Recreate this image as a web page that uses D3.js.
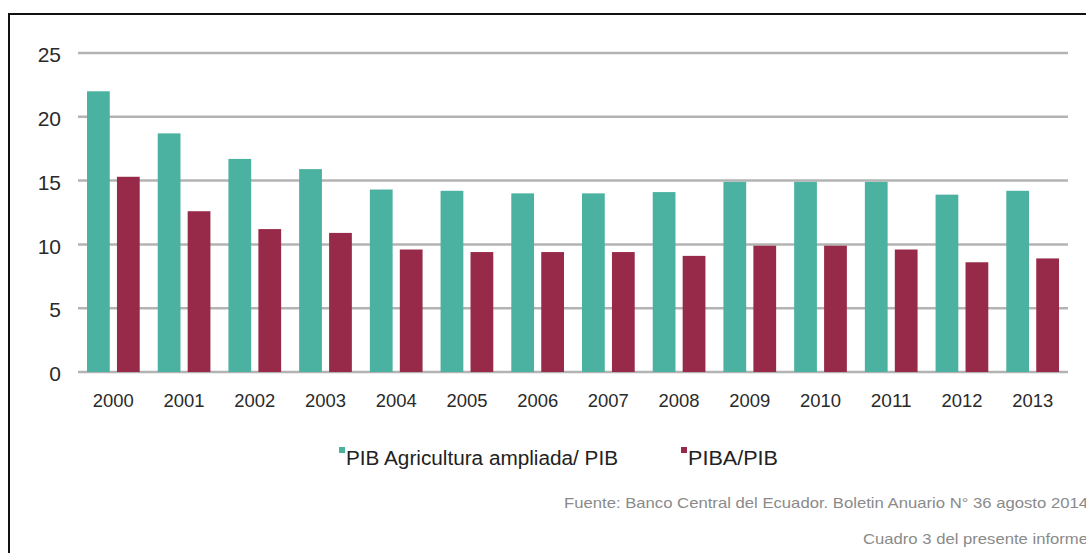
<!DOCTYPE html>
<html>
<head>
<meta charset="utf-8">
<script src="https://cdn.jsdelivr.net/npm/d3@7"></script>
<style>
  html, body { margin: 0; padding: 0; background: #fff; }
  svg { display: block; font-family: "Liberation Sans", Arial, sans-serif; }
</style>
</head>
<body>
<svg id="chart" width="1086" height="553"></svg>
<script>
// Participación del PIB agrícola en el PIB total (%)
const years = ["2000","2001","2002","2003","2004","2005","2006","2007","2008","2009","2010","2011","2012","2013"];
const pibAgriculturaAmpliada = [22.0, 18.7, 16.7, 15.9, 14.3, 14.2, 14.0, 14.0, 14.1, 14.9, 14.9, 14.9, 13.9, 14.2];
const pibaPib = [15.3, 12.6, 11.2, 10.9, 9.6, 9.4, 9.4, 9.4, 9.1, 9.9, 9.9, 9.6, 8.6, 8.9];
const yTicks = [0, 5, 10, 15, 20, 25];
const seriesNames = ["PIB Agricultura ampliada/ PIB", "PIBA/PIB"];
const seriesColors = ["#4bb1a1", "#982a49"];
const sourceLines = [
  "Fuente: Banco Central del Ecuador. Boletin Anuario N° 36 agosto 2014",
  "Cuadro 3 del presente informe"
];

const svg = d3.select("#chart");

// frame lines (top and left)
svg.append("line").attr("x1", 9).attr("x2", 1086).attr("y1", 14).attr("y2", 14)
  .attr("stroke", "#111").attr("stroke-width", 2);
svg.append("line").attr("x1", 9).attr("x2", 9).attr("y1", 13).attr("y2", 553)
  .attr("stroke", "#111").attr("stroke-width", 2);

const plot = { left: 78, right: 1068, top: 53, bottom: 372 };

const x = d3.scaleBand().domain(years).range([plot.left, plot.right]).paddingInner(0).paddingOuter(0);
const inner = d3.scaleBand().domain([0, 1]).range([9, x.bandwidth() - 9]).paddingInner(0.24);
const y = d3.scaleLinear().domain([0, 25]).range([plot.bottom, plot.top]);

// horizontal gridlines
svg.append("g").selectAll("line").data(yTicks).join("line")
  .attr("x1", plot.left).attr("x2", plot.right)
  .attr("y1", d => y(d)).attr("y2", d => y(d))
  .attr("stroke", "#b3b3b3").attr("stroke-width", 2.5);

// y-axis labels
const yAxis = d3.axisLeft(y).tickValues(yTicks).tickSize(0).tickPadding(0);
const gy = svg.append("g").attr("transform", "translate(61,2)").call(yAxis);
gy.select(".domain").remove();
gy.selectAll("text").attr("font-size", 21).attr("fill", "#2a2a2a")
  .attr("font-family", "'Liberation Sans', Arial, sans-serif");

// bars
const groups = svg.append("g").selectAll("g").data(years).join("g")
  .attr("transform", d => `translate(${x(d)},0)`);
const seriesData = [pibAgriculturaAmpliada, pibaPib];
groups.selectAll("rect")
  .data((d, i) => seriesData.map((s, k) => ({ k, v: s[i] })))
  .join("rect")
  .attr("x", d => inner(d.k))
  .attr("width", inner.bandwidth())
  .attr("y", d => y(d.v))
  .attr("height", d => y(0) - y(d.v))
  .attr("fill", d => seriesColors[d.k]);

// x-axis labels
const xAxis = d3.axisBottom(x).tickSize(0).tickPadding(0);
const gx = svg.append("g").attr("transform", "translate(0,393)").call(xAxis);
gx.select(".domain").remove();
gx.selectAll("text").attr("font-size", 19).attr("fill", "#2a2a2a")
  .attr("font-family", "'Liberation Sans', Arial, sans-serif")
  .attr("textLength", 41).attr("lengthAdjust", "spacingAndGlyphs");

// legend
const legendItems = [
  { name: seriesNames[0], color: seriesColors[0], sx: 339, tx: 346, w: 272 },
  { name: seriesNames[1], color: seriesColors[1], sx: 681, tx: 688, w: 90 }
];
const lg = svg.append("g").selectAll("g").data(legendItems).join("g");
lg.append("rect").attr("x", d => d.sx).attr("y", 447).attr("width", 6).attr("height", 6)
  .attr("fill", d => d.color);
lg.append("text").attr("x", d => d.tx).attr("y", 465)
  .attr("font-size", 20).attr("fill", "#222")
  .attr("textLength", d => d.w).attr("lengthAdjust", "spacingAndGlyphs")
  .text(d => d.name);

// source note
svg.append("g").selectAll("text").data(sourceLines).join("text")
  .attr("x", 1088)
  .attr("y", (d, i) => 508 + i * 36)
  .attr("text-anchor", "end")
  .attr("font-size", 15).attr("fill", "#8a8a8a")
  .attr("textLength", (d, i) => i === 0 ? 524 : 225)
  .attr("lengthAdjust", "spacingAndGlyphs")
  .text(d => d);
</script>
</body>
</html>
